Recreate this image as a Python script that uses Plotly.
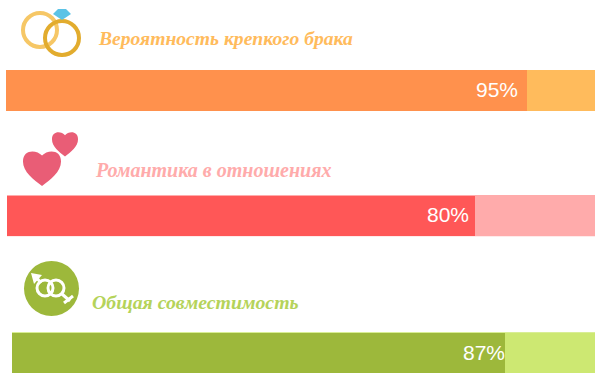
import plotly.graph_objects as go

W, H = 603, 383

titles = ["Вероятность крепкого брака", "Романтика в отношениях", "Общая совместимость"]
labels = ["95%", "80%", "87%"]
fill_share = [88.5, 79.6, 84.6]
track_share = [100, 100, 100]
label_end = [86.9, 78.6, 84.6]
fill_colors = ["#FF914D", "#FF5757", "#9DB83B"]
track_colors = ["#FFBB5C", "#FFABAB", "#CDE872"]
title_colors = ["#FFBB5C", "#FFABAB", "#B5D35A"]

bar_x = [(6, 595), (7, 595), (12, 595)]
bar_y = [(70, 111), (194.7, 236.3), (332.3, 373.7)]
fill_height = [1, 0.96, 0.96]
title_pos = [(96, 38), (93, 170), (90, 302)]
title_size = [19.6, 20, 19.8]


def px(x):
    return x / W


def py(y):
    return 1 - y / H


fig = go.Figure()
layout_axes = {}
annotations = []
for i in range(3):
    suffix = "" if i == 0 else str(i + 1)
    fig.add_trace(go.Bar(y=[titles[i]], x=[track_share[i]], orientation="h", width=1,
                         marker=dict(color=track_colors[i], line=dict(width=0)),
                         xaxis="x" + suffix, yaxis="y" + suffix,
                         showlegend=False, hoverinfo="skip"))
    fig.add_trace(go.Bar(y=[titles[i]], x=[fill_share[i]], orientation="h", width=fill_height[i],
                         marker=dict(color=fill_colors[i], line=dict(width=0)),
                         xaxis="x" + suffix, yaxis="y" + suffix,
                         showlegend=False, hoverinfo="skip"))
    layout_axes["xaxis" + suffix] = dict(domain=[px(bar_x[i][0]), px(bar_x[i][1])], range=[0, 100],
                                         visible=False, fixedrange=True, anchor="y" + suffix)
    layout_axes["yaxis" + suffix] = dict(domain=[py(bar_y[i][1]), py(bar_y[i][0])],
                                         visible=False, fixedrange=True, anchor="x" + suffix)
    annotations.append(dict(x=label_end[i], y=titles[i], xref="x" + suffix, yref="y" + suffix,
                            xanchor="right", yanchor="middle", showarrow=False, text=labels[i],
                            yshift=1, borderpad=0, borderwidth=0,
                            font=dict(family="Liberation Sans", size=21, color="white")))
    annotations.append(dict(x=px(title_pos[i][0]), y=py(title_pos[i][1]), xref="paper", yref="paper",
                            xanchor="left", yanchor="middle", showarrow=False,
                            text="<b><i>%s</i></b>" % titles[i],
                            font=dict(family="Liberation Serif", size=title_size[i], color=title_colors[i])))


def path(points):
    parts = []
    for cmd, *xy in points:
        s = cmd
        for j in range(0, len(xy), 2):
            s += " %.4f,%.4f" % (px(xy[j]), py(xy[j + 1]))
        parts.append(s)
    return " ".join(parts)


def ring(cx, cy, r, color, width):
    return dict(type="circle", xref="paper", yref="paper",
                x0=px(cx - r), x1=px(cx + r), y0=py(cy + r), y1=py(cy - r),
                line=dict(color=color, width=width), fillcolor="rgba(0,0,0,0)")


def heart(cx, top, w, h, color):
    l, r = cx - w / 2, cx + w / 2
    b = top + h
    d = path([
        ("M", cx, top + h * 0.13),
        ("C", cx - w * 0.14, top - h * 0.04, l, top - h * 0.06, l, top + h * 0.3),
        ("C", l, top + h * 0.6, cx - w * 0.22, top + h * 0.82, cx, b),
        ("C", cx + w * 0.22, top + h * 0.82, r, top + h * 0.6, r, top + h * 0.3),
        ("C", r, top - h * 0.06, cx + w * 0.14, top - h * 0.04, cx, top + h * 0.13),
        ("Z",),
    ])
    return dict(type="path", xref="paper", yref="paper", path=d, fillcolor=color, line=dict(width=0))


def poly(pts, color):
    seq = [("M", *pts[0])] + [("L", *p) for p in pts[1:]] + [("Z",)]
    return dict(type="path", xref="paper", yref="paper", path=path(seq), fillcolor=color, line=dict(width=0))


def seg(x0, y0, x1, y1, color, width):
    return dict(type="line", xref="paper", yref="paper", x0=px(x0), y0=py(y0), x1=px(x1), y1=py(y1),
                line=dict(color=color, width=width))


shapes = [
    ring(40, 30, 17, "#F6C766", 4),
    ring(62, 38, 17, "#E2AC2E", 4),
    poly([(53, 14), (58, 9), (66, 9), (71, 14), (62, 20)], "#5CC3E6"),
    heart(42, 151, 38, 35, "#E95D76"),
    heart(65, 132, 26, 24.5, "#E95D76"),
    dict(type="circle", xref="paper", yref="paper", x0=px(24), x1=px(79), y0=py(316), y1=py(261),
         fillcolor="#9DB83B", line=dict(width=0)),
    ring(45, 288, 8, "white", 3),
    ring(56, 288, 8, "white", 3),
    seg(41, 283, 36, 277, "white", 3),
    poly([(31, 273), (42, 275), (34, 284)], "white"),
    seg(62, 294, 70, 301, "white", 3),
    seg(64, 303, 73, 296, "white", 3),
]

fig.update_layout(width=W, height=H, margin=dict(l=0, r=0, t=0, b=0), barmode="overlay", bargap=0,
                  paper_bgcolor="white", plot_bgcolor="white", showlegend=False,
                  annotations=annotations, shapes=shapes, **layout_axes)

fig.write_html("out.html", config=dict(displayModeBar=False),
               post_script="document.body.style.margin='0';")
